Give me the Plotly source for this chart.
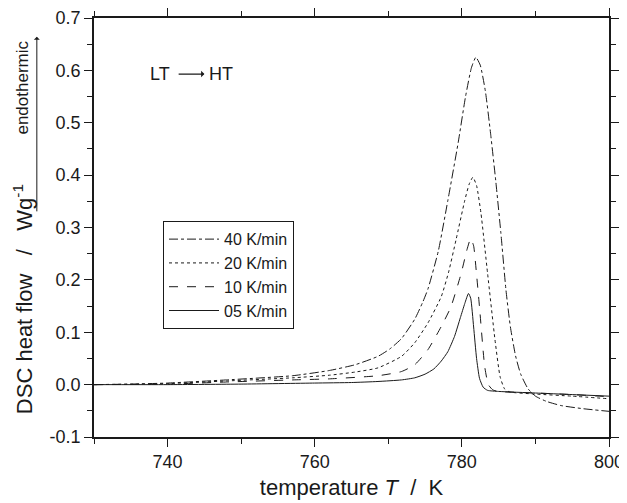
import plotly.graph_objects as go

# ---- data ----
T40 = [730, 735, 740, 748, 757, 762, 765.5, 768.6, 770.2, 771.8, 773.6, 774.7, 775.4, 776.8, 778.1, 779.5, 780.5, 781.3, 781.9, 782.5, 783.2, 783.9, 784.6, 785.3, 786.0, 786.6, 787.3, 788.0, 789.0, 790.0, 791.5, 793.5, 796.5, 800]
Q40 = [0.0, 0.001, 0.003, 0.009, 0.017, 0.027, 0.038, 0.054, 0.068, 0.088, 0.125, 0.158, 0.183, 0.255, 0.352, 0.462, 0.55, 0.605, 0.625, 0.61, 0.56, 0.48, 0.39, 0.29, 0.18, 0.11, 0.055, 0.02, -0.008, -0.022, -0.032, -0.040, -0.046, -0.051]

T20 = [730, 740, 748, 757, 762, 765.5, 768.6, 771.8, 773.6, 775.4, 777.2, 778.2, 779.2, 780.4, 781.0, 781.5, 782.0, 782.6, 783.5, 784.5, 785.2, 785.8, 786.5, 790, 795, 800]
Q20 = [0.0, 0.002, 0.007, 0.013, 0.018, 0.024, 0.032, 0.054, 0.080, 0.118, 0.168, 0.215, 0.276, 0.352, 0.383, 0.396, 0.38, 0.327, 0.212, 0.086, 0.015, -0.008, -0.014, -0.018, -0.022, -0.027]

T10 = [730, 740, 748, 757, 762, 768.6, 771.8, 773.6, 775.4, 777.2, 778.5, 779.9, 780.7, 781.2, 781.6, 782.0, 782.4, 783.1, 783.6, 784.2, 785.0, 790, 795, 800]
Q10 = [0.0, 0.001, 0.005, 0.009, 0.011, 0.017, 0.025, 0.038, 0.067, 0.111, 0.148, 0.212, 0.258, 0.279, 0.265, 0.21, 0.148, 0.035, 0.0, -0.010, -0.013, -0.016, -0.019, -0.023]

T05 = [730, 740, 750, 760, 765, 768.6, 771.8, 773.6, 775.0, 776.2, 777.2, 778.1, 779.0, 779.8, 780.4, 780.9, 781.2, 781.6, 782.0, 782.4, 782.9, 783.5, 785, 790, 795, 800]
Q05 = [0.0, 0.0, 0.001, 0.003, 0.004, 0.006, 0.009, 0.013, 0.020, 0.030, 0.045, 0.063, 0.092, 0.128, 0.155, 0.174, 0.165, 0.11, 0.05, 0.012, -0.005, -0.011, -0.013, -0.016, -0.019, -0.022]

series_names = ["40 K/min", "20 K/min", "10 K/min", "05 K/min"]
series_T = [T40, T20, T10, T05]
series_Q = [Q40, Q20, Q10, Q05]
dashes = ["dashdot", "dot", "dash", "solid"]

x_range = [730, 800]
y_range = [-0.1, 0.7]
x_ticks = [740, 760, 780, 800]
y_ticks = [-0.1, 0.0, 0.1, 0.2, 0.3, 0.4, 0.5, 0.6, 0.7]
y_ticklabels = ["-0.1", "0.0", "0.1", "0.2", "0.3", "0.4", "0.5", "0.6", "0.7"]

# "LT -> HT" label position (data units)
lt_x, ht_x, lbl_y = 739.0, 747.2, 0.593
arrow_from, arrow_to = 741.3, 745.0

FONT = "Liberation Sans, Arial, Helvetica, sans-serif"
INK = "#1a1a1a"

fig = go.Figure()
for name, t, q, d in zip(series_names, series_T, series_Q, dashes):
    fig.add_trace(go.Scatter(x=t, y=q, mode="lines", name=name,
                             line=dict(color=INK, width=1, dash=d, shape="spline", smoothing=0.5)))

# invisible trace on the mirrored axes so the top/right ticks are drawn
fig.add_trace(go.Scatter(x=x_range, y=y_range, xaxis="x2", yaxis="y2", mode="markers",
                         marker=dict(opacity=0), showlegend=False, hoverinfo="skip"))

common = dict(showgrid=False, zeroline=False, showline=True, linecolor=INK, linewidth=1.5,
              tickcolor=INK, tickwidth=1.3, ticklen=8)
minor_main = dict(ticks="outside", ticklen=5, tickwidth=1.3, tickcolor=INK, showgrid=False)
# on the overlaying top/right axes, this setting points the ticks into the plot
minor_mirror = dict(ticks="outside", ticklen=5, tickwidth=1.3, tickcolor=INK, showgrid=False)

# the page body adds an 8px offset, so the figure is 8px smaller than the window
fig.update_layout(
    width=619, height=495,
    margin=dict(l=86, r=18, t=10, b=66, autoexpand=False),
    paper_bgcolor="white", plot_bgcolor="white",
    font=dict(family=FONT, size=18, color=INK),
    showlegend=True,
    legend=dict(x=0.134, y=0.515, xanchor="left", yanchor="top",
                bordercolor=INK, borderwidth=1, bgcolor="white",
                font=dict(size=16, family=FONT, color=INK),
                tracegroupgap=0, itemwidth=50),
    xaxis=dict(range=x_range, tickvals=x_ticks, ticks="outside", tickfont=dict(size=18),
               minor=dict(dtick=10, tick0=730, **minor_main),
               title=dict(text="temperature <i>T</i>  /  K", font=dict(size=22), standoff=8), **common),
    yaxis=dict(range=y_range, tickvals=y_ticks, ticktext=y_ticklabels, ticks="outside",
               tickfont=dict(size=18), minor=dict(dtick=0.05, tick0=0, **minor_main), **common),
    xaxis2=dict(range=x_range, overlaying="x", side="top", anchor="y2", tickvals=x_ticks,
                showticklabels=False, ticks="outside", minor=dict(dtick=10, tick0=730, **minor_mirror), **common),
    yaxis2=dict(range=y_range, overlaying="y", side="right", anchor="x2", tickvals=y_ticks,
                showticklabels=False, ticks="outside", minor=dict(dtick=0.05, tick0=0, **minor_mirror), **common),
)

# y-axis title pieces
fig.add_annotation(xref="paper", yref="paper", x=-0.139, y=0.33,
                   text="DSC heat flow \u00a0\u00a0/\u00a0\u00a0 Wg<sup>-1</sup>",
                   textangle=-90, showarrow=False, font=dict(size=22, family=FONT, color=INK),
                   xanchor="center", yanchor="middle")
fig.add_annotation(xref="paper", yref="paper", x=-0.139, y=0.835, text="endothermic",
                   textangle=-90, showarrow=False, font=dict(size=17, family=FONT, color=INK),
                   xanchor="center", yanchor="middle")
fig.add_annotation(xref="paper", yref="paper", x=-0.111, y=0.955, ax=0, ay=176, text="",
                   showarrow=True, arrowhead=1, arrowsize=1, arrowwidth=1, arrowcolor=INK)

# LT -> HT label
fig.add_annotation(x=lt_x, y=lbl_y, text="LT", showarrow=False, xanchor="center", yanchor="middle",
                   font=dict(size=18, family=FONT, color=INK))
fig.add_annotation(x=ht_x, y=lbl_y, text="HT", showarrow=False, xanchor="center", yanchor="middle",
                   font=dict(size=18, family=FONT, color=INK))
fig.add_annotation(x=arrow_to, y=lbl_y, ax=arrow_from, ay=lbl_y, axref="x", ayref="y", text="",
                   showarrow=True, arrowhead=1, arrowsize=0.9, arrowwidth=1.2, arrowcolor=INK)

fig.write_html("out.html")
